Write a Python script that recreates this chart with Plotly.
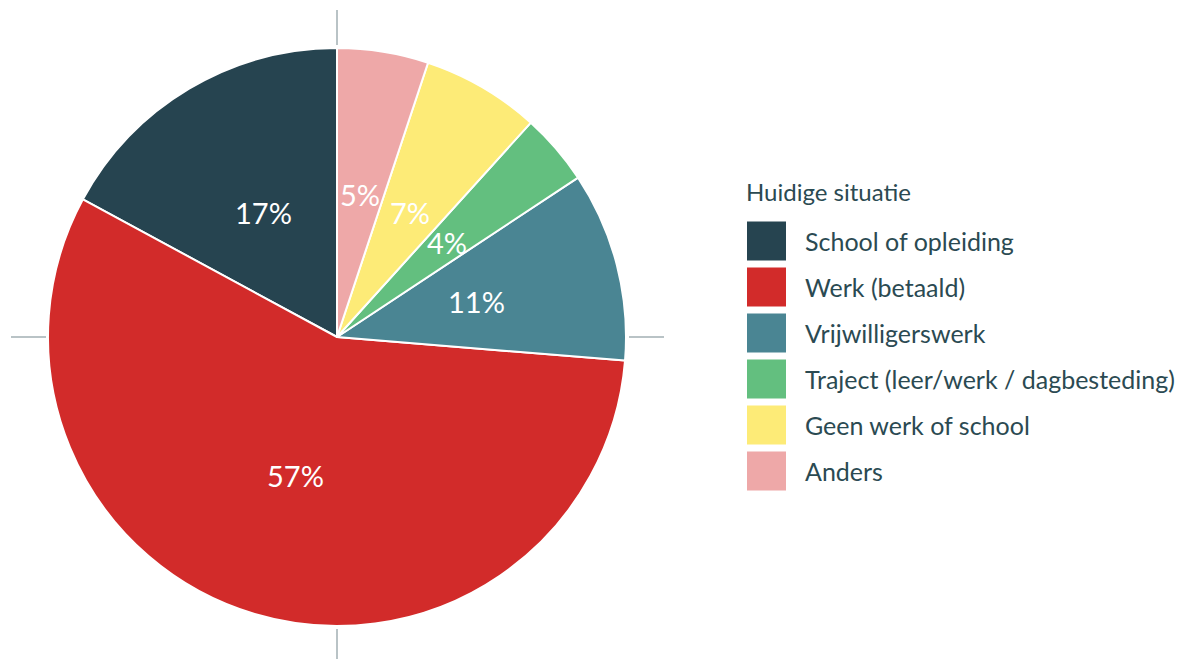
import math
import plotly.graph_objects as go

categories = ["School of opleiding", "Werk (betaald)", "Vrijwilligerswerk",
              "Traject (leer/werk / dagbesteding)", "Geen werk of school", "Anders"]
values = [17.1, 56.6, 10.6, 4.0, 6.6, 5.1]
colors = ["#264450", "#d22b2a", "#4a8593", "#63bf7f", "#fdeb77", "#eea8a8"]
legend_title = "Huidige situatie"

W, H = 1184, 659
OFF = 8  # page margin around the figure
cx, cy, R = 337, 337, 289  # pie centre and radius in screen pixels
TEXT = "#2b4a52"
FONT = "Lato"

def px(x):
    return (x - OFF) / W

def py(y):
    return 1 - (y - OFF) / H

total = sum(values)
fig = go.Figure()
fig.add_trace(go.Pie(
    labels=categories, values=values, sort=False, direction="counterclockwise",
    # plotly lays the first slice clockwise of the start angle; shift so it lies left of 12 o'clock
    rotation=-values[0] / total * 360, textinfo="none", hoverinfo="label+percent",
    marker=dict(colors=colors, line=dict(color="white", width=2)),
    domain=dict(x=[px(cx - R), px(cx + R)], y=[py(cy + R), py(cy - R)]),
    showlegend=False,
))

annotations = []
shapes = []
cum = 0.0
for v in values:
    mid = (cum + v / 2) / total * 2 * math.pi
    cum += v
    # counterclockwise from 12 o'clock
    lx = cx - 0.5 * R * math.sin(mid)
    ly = cy - 0.5 * R * math.cos(mid)
    annotations.append(dict(x=px(lx), y=py(ly), xref="paper", yref="paper",
                            text=f"{v / total * 100:.0f}%", showarrow=False,
                            font=dict(family=FONT, size=29, color="white"),
                            xanchor="center", yanchor="middle"))

# crosshair ticks around the pie
gray = "#b9c3c6"
for (x0, y0, x1, y1) in [(cx, 10, cx, 45), (cx, 629, cx, 670),
                         (11, cy, 46, cy), (629, cy, 664, cy)]:
    shapes.append(dict(type="line", xref="paper", yref="paper",
                       x0=px(x0), y0=py(y0), x1=px(x1), y1=py(y1),
                       line=dict(color=gray, width=2), layer="below"))

# legend
annotations.append(dict(x=px(744), y=py(191), xref="paper", yref="paper",
                        text=legend_title, showarrow=False, xanchor="left",
                        yanchor="middle", font=dict(family=FONT, size=24, color=TEXT)))
for i, (cat, col) in enumerate(zip(categories, colors)):
    yc = 241 + i * 46
    shapes.append(dict(type="rect", xref="paper", yref="paper",
                       x0=px(747), x1=px(786), y0=py(yc - 19.5), y1=py(yc + 19.5),
                       fillcolor=col, line=dict(width=0)))
    annotations.append(dict(x=px(803), y=py(yc), xref="paper", yref="paper",
                            text=cat, showarrow=False, xanchor="left", yanchor="middle",
                            font=dict(family=FONT, size=25, color=TEXT)))

fig.update_layout(width=W, height=H, margin=dict(l=0, r=0, t=0, b=0),
                  paper_bgcolor="white", plot_bgcolor="white",
                  annotations=annotations, shapes=shapes,
                  font=dict(family=FONT, color=TEXT))
fig.write_html("out.html")
